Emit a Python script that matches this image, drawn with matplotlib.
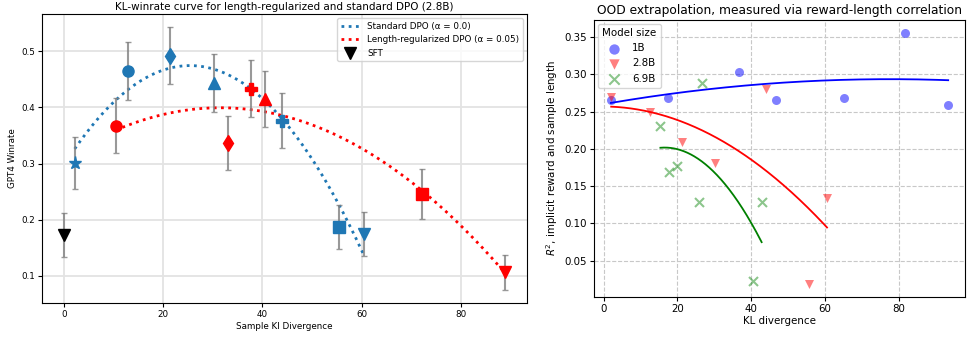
import numpy as np
import matplotlib
matplotlib.use('Agg')
import matplotlib.pyplot as plt

# ---- Left panel data ----
std_kl = [2.16, 12.87, 21.35, 30.24, 43.9, 55.5, 60.4]
std_wr = [0.301, 0.465, 0.492, 0.4436, 0.376, 0.1875, 0.174]
std_err = [0.047, 0.051, 0.051, 0.0515, 0.049, 0.039, 0.039]
std_markers = ['*', 'o', 'd', '^', 'P', 's', 'v']

lr_kl = [10.44, 33.1, 37.65, 40.6, 72.2, 88.9]
lr_wr = [0.367, 0.336, 0.4335, 0.415, 0.246, 0.106]
lr_err = [0.049, 0.048, 0.0505, 0.050, 0.044, 0.031]
lr_markers = ['o', 'd', 'P', '^', 's', 'v']

sft_kl = [0.0]
sft_wr = [0.173]
sft_err = [0.039]

# ---- Right panel data ----
kl_1b = [2.0, 17.4, 36.6, 46.8, 65.1, 81.7, 93.3]
r2_1b = [0.2652, 0.2678, 0.3036, 0.2657, 0.2689, 0.3562, 0.2586]
kl_28b = [2.08, 12.7, 21.3, 30.3, 43.9, 55.6, 60.5]
r2_28b = [0.2695, 0.250, 0.2093, 0.1815, 0.2801, 0.0183, 0.1343]
kl_69b = [15.4, 17.8, 19.9, 26.6, 25.9, 40.4, 42.8]
r2_69b = [0.2308, 0.1688, 0.1763, 0.288, 0.128, 0.0230, 0.128]

fig = plt.figure(figsize=(9.67, 3.37), dpi=100)
ax1 = fig.add_axes([0.0434, 0.1009, 0.5016, 0.8576])
ax2 = fig.add_axes([0.6143, 0.1196, 0.3837, 0.8211])

# ---- Left panel ----
ax1.grid(True, color='#e3e3e3', linewidth=1.3, zorder=0)
ax1.set_axisbelow(True)

def fit_curve(ax, x, y, color, label, deg=2):
    c = np.polyfit(x, y, deg)
    xs = np.linspace(min(x), max(x), 300)
    ax.plot(xs, np.polyval(c, xs), linestyle=(0, (1, 1.6)), color=color, linewidth=2.0,
            label=label, zorder=2)

fit_curve(ax1, std_kl, std_wr, '#1f77b4', 'Standard DPO (α = 0.0)')
fit_curve(ax1, lr_kl, lr_wr, 'red', 'Length-regularized DPO (α = 0.05)')

for xs_, ys_, es_, ms_, col in [(std_kl, std_wr, std_err, std_markers, '#1f77b4'),
                                (lr_kl, lr_wr, lr_err, lr_markers, 'red'),
                                (sft_kl, sft_wr, sft_err, ['v'], 'black')]:
    ax1.errorbar(xs_, ys_, yerr=es_, fmt='none', ecolor='gray', elinewidth=1.5,
                 capsize=2.5, capthick=1.0, alpha=0.8, zorder=3)
    for xv, yv, m in zip(xs_, ys_, ms_):
        ms = 9.5 if m == '*' else 8
        ax1.plot([xv], [yv], marker=m, color=col, markersize=ms, linestyle='none', zorder=4)

ax1.plot([], [], 'v', color='black', markersize=8, label='SFT')
ax1.set_title('KL-winrate curve for length-regularized and standard DPO (2.8B)', fontsize=7.5, pad=3)
ax1.set_xlabel('Sample Kl Divergence', fontsize=6.3, labelpad=2)
ax1.set_ylabel('GPT4 Winrate', fontsize=6.3, labelpad=3)
ax1.tick_params(labelsize=6.3, length=3, pad=2)
ax1.set_yticks([0.1, 0.2, 0.3, 0.4, 0.5])
ax1.legend(loc='upper right', fontsize=6.3, handlelength=2.2)

# ---- Right panel ----
ax2.grid(True, linestyle='--', color='#c8c8c8', linewidth=0.8)
ax2.set_axisbelow(True)
ax2.scatter(kl_1b, r2_1b, marker='o', color='blue', alpha=0.5, s=42, label='1B', linewidths=0)
ax2.scatter(kl_28b, r2_28b, marker='v', color='red', alpha=0.5, s=42, label='2.8B', linewidths=0)
ax2.scatter(kl_69b, r2_69b, marker='x', color='green', alpha=0.45, s=42, label='6.9B')

for x, y, col in [(kl_1b, r2_1b, 'blue'), (kl_28b, r2_28b, 'red'), (kl_69b, r2_69b, 'green')]:
    c = np.polyfit(x, y, 2)
    xs = np.linspace(min(x), max(x), 300)
    ax2.plot(xs, np.polyval(c, xs), color=col, linewidth=1.3)

ax2.set_title('OOD extrapolation, measured via reward-length correlation', fontsize=8.8, pad=4)
ax2.set_xlabel('KL divergence', fontsize=7.4, labelpad=2)
ax2.set_ylabel('$R^2$, implicit reward and sample length', fontsize=7.4, labelpad=3)
ax2.tick_params(labelsize=7.4, length=3, pad=2)
ax2.set_yticks([0.05, 0.10, 0.15, 0.20, 0.25, 0.30, 0.35])
ax2.legend(loc='upper left', title='Model size', fontsize=7.4, title_fontsize=7.4,
           borderaxespad=0.4, markerscale=1.15)

fig.savefig('out.png', dpi=100)
